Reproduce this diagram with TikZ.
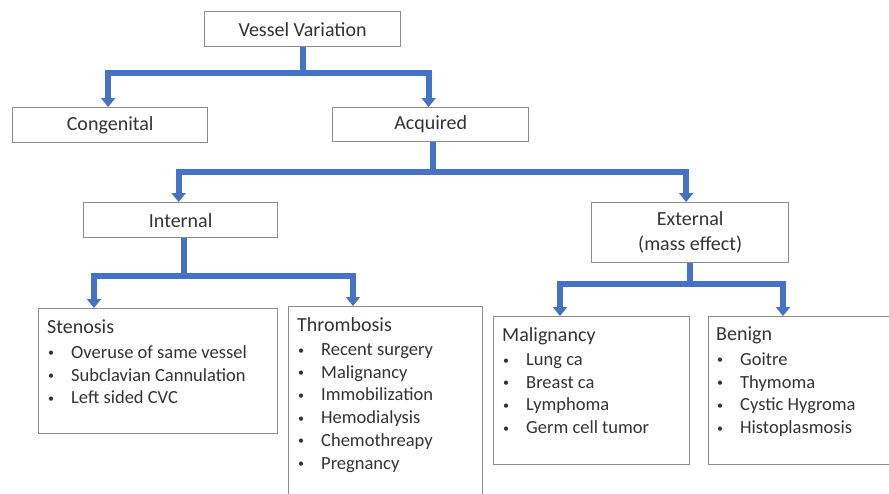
\documentclass[tikz,border=0pt]{standalone}
\usepackage{fontspec}
\setmainfont{Carlito}
\usetikzlibrary{arrows.meta}
\definecolor{conblue}{HTML}{4472C4}
\definecolor{boxgray}{HTML}{8C8C8C}
\definecolor{txtgray}{HTML}{333333}
\newcommand{\ttl}{\fontsize{20}{22.7}\selectfont}
\newcommand{\itf}{\fontsize{18.5}{22.7}\selectfont}
\newcommand{\itm}{\makebox[24pt][l]{\hspace{1pt}\raisebox{1.5pt}{\fontsize{12}{12}\selectfont\textbullet}}}
\begin{document}
\begin{tikzpicture}[x=1pt,y=1pt,
  box/.style={draw=boxgray, line width=1.3pt, fill=white, anchor=north west, inner sep=0pt},
  lbl/.style={text=txtgray, font=\ttl, align=center, inner sep=0pt},
  lst/.style={text=txtgray, font=\itf, align=left, anchor=north west, inner sep=0pt},
  conn/.style={draw=conblue, line width=6pt, -{Triangle[width=14pt,length=9pt]}}
]
\useasboundingbox (0,0) rectangle (889,-493);
\clip (0,0) rectangle (889,-493);
\fill[white] (0,0) rectangle (889,-493);

% single-line boxes
\node[box, minimum width=196pt, minimum height=35pt] (vv) at (204,-11) {};
\node[lbl] (vvt) at (vv.center) {Vessel Variation};
\node[box, minimum width=195pt, minimum height=35pt] (cong) at (12,-107) {};
\node[lbl] (congt) at (cong.center) {Congenital};
\node[box, minimum width=196pt, minimum height=34pt] (acq) at (332,-107) {};
\node[lbl] (acqt) at (acq.center) {Acquired};
\node[box, minimum width=194pt, minimum height=35pt] (int) at (83,-202) {};
\node[lbl] (intt) at (int.center) {Internal};
\node[box, minimum width=197pt, minimum height=60pt] (ext) at (591,-202) {};
\node[lbl, font={\fontsize{20}{25}\selectfont}] (extt) at (ext.center) {External\\(mass effect)};

% list boxes
\node[box, minimum width=239pt, minimum height=125pt] (sten) at (38,-308) {};
\node[lst] (stent) at ([shift={(9pt,-12pt)}]sten.north west)
  {{\ttl Stenosis}\\[1.8pt]\itm Overuse of same vessel\\\itm Subclavian Cannulation\\\itm Left sided CVC};
\node[box, minimum width=194pt, minimum height=210pt] (thr) at (288,-306) {};
\node[lst] (thrt) at ([shift={(9pt,-11pt)}]thr.north west)
  {{\ttl Thrombosis}\\[1.8pt]\itm Recent surgery\\\itm Malignancy\\\itm Immobilization\\\itm Hemodialysis\\\itm Chemothreapy\\\itm Pregnancy};
\node[box, minimum width=196pt, minimum height=148pt] (mal) at (493,-316) {};
\node[lst] (malt) at ([shift={(9pt,-11pt)}]mal.north west)
  {{\ttl Malignancy}\\[1.8pt]\itm Lung ca\\\itm Breast ca\\\itm Lymphoma\\\itm Germ cell tumor};
\node[box, minimum width=200pt, minimum height=148pt] (ben) at (708,-316) {};
\node[lst] (bent) at ([shift={(8pt,-11pt)}]ben.north west)
  {{\ttl Benign}\\[1.8pt]\itm Goitre\\\itm Thymoma\\\itm Cystic Hygroma\\\itm Histoplasmosis};

% connectors
\draw[conn] (vv.south) -- ++(0,-26) -| ([xshift=-2pt]cong.north);
\draw[conn] (vv.south) -- ++(0,-26) -| ([xshift=-2pt]acq.north);
\draw[conn] ([xshift=2pt]acq.south) -- ++(0,-30) -| ([xshift=-2pt]int.north);
\draw[conn] ([xshift=2pt]acq.south) -- ++(0,-30) -| ([xshift=-4pt]ext.north);
\draw[conn] ([xshift=3pt]int.south) -- ++(0,-38) -| ([xshift=56pt]sten.north west);
\draw[conn] ([xshift=3pt]int.south) -- ++(0,-38) -| ([xshift=65pt]thr.north west);
\draw[conn] ([xshift=-0.5pt]ext.south) -- ++(0,-21) -| ([xshift=67pt]mal.north west);
\draw[conn] ([xshift=-0.5pt]ext.south) -- ++(0,-21) -| ([xshift=75pt]ben.north west);
\end{tikzpicture}
\end{document}
